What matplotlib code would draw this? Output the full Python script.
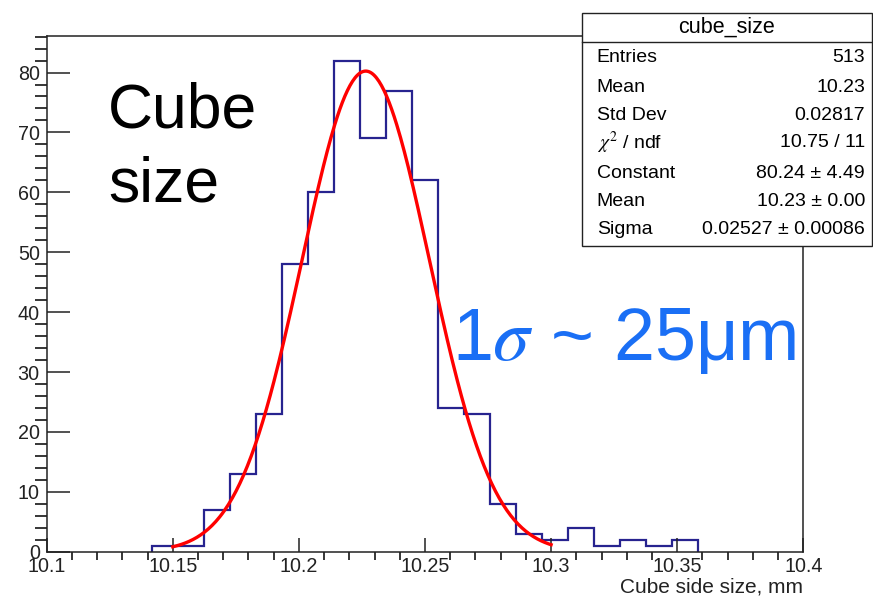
import numpy as np
import matplotlib
matplotlib.use("Agg")
import matplotlib.pyplot as plt
from matplotlib.ticker import MultipleLocator
from matplotlib.patches import Rectangle

plt.rcParams["font.family"] = ["Liberation Sans", "DejaVu Sans"]
plt.rcParams["mathtext.fontset"] = "stix"

# histogram data
bin_lo = 10.1417
bin_hi = 10.3584
counts = [1, 1, 7, 13, 23, 48, 60, 82, 69, 77, 62, 24, 23, 8, 3, 2, 4, 1, 2, 1, 2]

# gaussian fit result
fit_const = 80.24
fit_mean = 10.2265
fit_sigma = 0.02527
fit_range = (10.15, 10.30)

stat_labels = ["Entries", "Mean", "Std Dev", r"$\chi^2$ / ndf", "Constant", "Mean", "Sigma"]
stat_values = ["513", "10.23", "0.02817", "10.75 / 11", "80.24 \u00b1 4.49",
               "10.23 \u00b1 0.00", "0.02527 \u00b1 0.00086"]

W, H = 873, 599
fig = plt.figure(figsize=(W / 100, H / 100), dpi=100)
ax = fig.add_axes([46.7 / W, 1 - 551.7 / H, (803.3 - 46.7) / W, (551.7 - 36) / H])

edges = np.linspace(bin_lo, bin_hi, len(counts) + 1)
ax.stairs(counts, edges, color="#27238f", lw=1.6, baseline=0)

xf = np.linspace(fit_range[0], fit_range[1], 300)
yf = fit_const * np.exp(-0.5 * ((xf - fit_mean) / fit_sigma) ** 2)
ax.plot(xf, yf, color="#ff0000", lw=2.4)

ax.set_xlim(10.1, 10.4)
ax.set_ylim(0, 86.1)
ax.xaxis.set_major_locator(MultipleLocator(0.05))
ax.xaxis.set_minor_locator(MultipleLocator(0.01))
ax.yaxis.set_major_locator(MultipleLocator(10))
ax.yaxis.set_minor_locator(MultipleLocator(2))
ax.xaxis.set_major_formatter(plt.FuncFormatter(lambda v, p: f"{v:g}"))
ax.tick_params(axis="both", direction="in", labelsize=14.2, width=1.1, colors="#222222")
ax.tick_params(axis="x", which="major", length=10, pad=4)
ax.tick_params(axis="x", which="minor", length=5.8, width=1.1)
ax.tick_params(axis="y", which="major", length=16.5, pad=5)
ax.tick_params(axis="y", which="minor", length=8.6, width=1.1)
for s in ax.spines.values():
    s.set_linewidth(1.1)
    s.set_color("#222222")

ax.set_xlabel("Cube side size, mm", loc="right", fontsize=15, labelpad=1, color="#222222")

# big annotations
fig.text(108 / W, 1 - 128 / H, "Cube", fontsize=45, ha="left", va="baseline")
fig.text(108 / W, 1 - 202 / H, "size", fontsize=45, ha="left", va="baseline")
fig.text(452 / W, 1 - 360 / H, "1$\\sigma$ ~ 25\u03bcm",
         fontsize=53, color="#1a6ff5", ha="left", va="baseline")

# stats box
bx0, bx1 = 581.7, 871.7
by0, by1, bsep = 13.3, 246, 41.7
fig.patches.append(Rectangle((bx0 / W, 1 - by1 / H), (bx1 - bx0) / W, (by1 - by0) / H,
                             transform=fig.transFigure, facecolor="white",
                             edgecolor="#222222", lw=1.0, zorder=5))
fig.add_artist(plt.Line2D([bx0 / W, bx1 / W], [1 - bsep / H, 1 - bsep / H],
                          transform=fig.transFigure, color="#222222", lw=1.0, zorder=6))
fig.text((bx0 + bx1) / 2 / W, 1 - 27 / H, "cube_size", fontsize=15.5,
         ha="center", va="center", zorder=7)
row_y = [58, 87, 115, 143, 173, 202, 230]
for lab, val, ry in zip(stat_labels, stat_values, row_y):
    fig.text(596.7 / W, 1 - ry / H, lab, fontsize=14, ha="left", va="center", zorder=7)
    fig.text(865 / W, 1 - ry / H, val, fontsize=14, ha="right", va="center", zorder=7)

fig.savefig("out.png", dpi=100)
